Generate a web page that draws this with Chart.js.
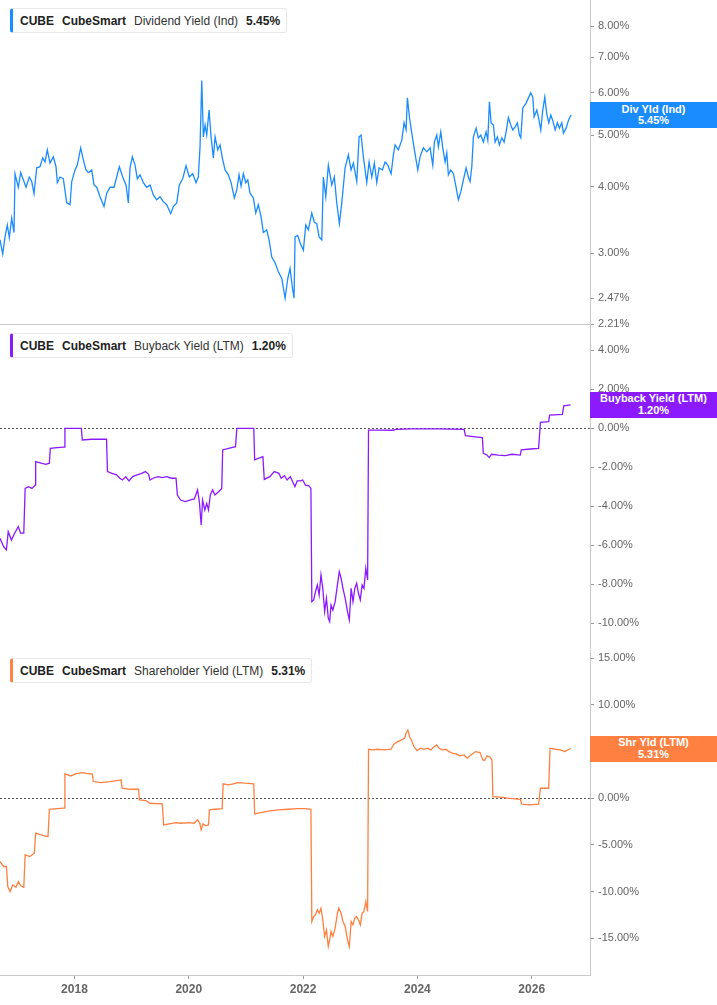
<!DOCTYPE html>
<html>
<head>
<meta charset="utf-8">
<script src="https://cdn.jsdelivr.net/npm/chart.js@4.4.1/dist/chart.umd.min.js"></script>
<style>
  body { margin: 0; background: #fff; width: 717px; height: 1005px; overflow: hidden; position: relative;
         font-family: "Liberation Sans", Arial, sans-serif; }
  .panel { position: absolute; left: 0; width: 717px; }
  .panel canvas { display: block; }
  .legend { position: absolute; left: 10px; height: 23px; display: flex; align-items: center; gap: 8px;
            padding: 0 6px 0 7px; background: #fff; border: 1px solid #e8e8e8; border-left-width: 3px;
            border-radius: 3px; font-size: 12px; color: #333; white-space: nowrap; }
  .legend b { color: #222; }
  .tag { position: absolute; left: 590px; width: 127px; height: 26px; color: #fff; font-weight: bold;
         font-size: 11px; line-height: 11.5px; text-align: center; padding-top: 1.5px; box-sizing: border-box; }
</style>
</head>
<body>
<div class="panel" id="p1" style="top:0"><canvas id="c1" width="717" height="332"></canvas></div>
<div class="panel" id="p2" style="top:325px"><canvas id="c2" width="717" height="324"></canvas></div>
<div class="panel" id="p3" style="top:650px"><canvas id="c3" width="717" height="355"></canvas></div>

<script>
// ---- data (decimal years, values in %) ----
const ticker = 'CUBE';
const company = 'CubeSmart';

const xMin = 2016.697;
const xMax = 2027.02;
const xTickYears = [2018, 2020, 2022, 2024, 2026];

// Dividend Yield (Ind)
const divName = 'Dividend Yield (Ind)';
const divTag = 'Div Yld (Ind)';
const divTicks = [2.21, 2.47, 3, 4, 5, 6, 7, 8];
const divDates = [
  2016.697, 2016.744, 2016.785, 2016.825, 2016.860, 2016.902, 2016.942, 2016.960, 2017.017, 2017.059,
  2017.105, 2017.152, 2017.210, 2017.252, 2017.292, 2017.339, 2017.397, 2017.444, 2017.485, 2017.525,
  2017.572, 2017.630, 2017.677, 2017.700, 2017.747, 2017.805, 2017.864, 2017.922, 2017.952, 2018.010,
  2018.050, 2018.109, 2018.155, 2018.202, 2018.242, 2018.302, 2018.342, 2018.389, 2018.447, 2018.517,
  2018.564, 2018.622, 2018.692, 2018.739, 2018.785, 2018.844, 2018.902, 2018.942, 2018.972, 2019.012,
  2019.060, 2019.100, 2019.147, 2019.205, 2019.264, 2019.322, 2019.380, 2019.439, 2019.497, 2019.555,
  2019.614, 2019.684, 2019.730, 2019.789, 2019.835, 2019.894, 2019.952, 2020.010, 2020.069, 2020.127,
  2020.167, 2020.197, 2020.227, 2020.255, 2020.285, 2020.314, 2020.355, 2020.390, 2020.430, 2020.460,
  2020.507, 2020.547, 2020.587, 2020.635, 2020.692, 2020.740, 2020.797, 2020.839, 2020.880, 2020.915,
  2020.955, 2020.997, 2021.032, 2021.072, 2021.130, 2021.172, 2021.217, 2021.265, 2021.305, 2021.364,
  2021.405, 2021.452, 2021.510, 2021.567, 2021.627, 2021.685, 2021.732, 2021.772, 2021.812, 2021.842,
  2021.860, 2021.907, 2021.947, 2022.005, 2022.047, 2022.092, 2022.152, 2022.197, 2022.239, 2022.280,
  2022.327, 2022.355, 2022.397, 2022.442, 2022.502, 2022.547, 2022.589, 2022.635, 2022.677, 2022.735,
  2022.792, 2022.840, 2022.880, 2022.939, 2022.980, 2023.015, 2023.055, 2023.114, 2023.155, 2023.202,
  2023.247, 2023.289, 2023.330, 2023.387, 2023.435, 2023.482, 2023.540, 2023.580, 2023.610, 2023.667,
  2023.727, 2023.767, 2023.802, 2023.825, 2023.860, 2023.902, 2023.942, 2023.977, 2024.007, 2024.047,
  2024.105, 2024.164, 2024.222, 2024.269, 2024.297, 2024.339, 2024.367, 2024.409, 2024.444, 2024.485,
  2024.514, 2024.542, 2024.584, 2024.630, 2024.677, 2024.717, 2024.759, 2024.805, 2024.852, 2024.892,
  2024.922, 2024.952, 2024.980, 2025.027, 2025.067, 2025.109, 2025.155, 2025.202, 2025.232, 2025.260,
  2025.290, 2025.330, 2025.360, 2025.400, 2025.435, 2025.477, 2025.517, 2025.552, 2025.592, 2025.634,
  2025.669, 2025.710, 2025.750, 2025.785, 2025.809, 2025.844, 2025.902, 2025.942, 2025.984, 2026.019,
  2026.042, 2026.089, 2026.117, 2026.159, 2026.194, 2026.229, 2026.264, 2026.299, 2026.334, 2026.369,
  2026.410, 2026.450, 2026.485, 2026.527, 2026.555, 2026.602, 2026.642, 2026.672, 2026.690
];
const divValues = [
  3.18, 2.99, 3.22, 3.39, 3.21, 3.49, 3.28, 4.23, 3.99, 4.25,
  4.12, 3.99, 4.17, 4.09, 3.88, 4.34, 4.36, 4.53, 4.45, 4.69,
  4.43, 4.55, 4.36, 4.07, 4.17, 4.14, 3.73, 3.70, 4.09, 4.30,
  4.39, 4.73, 4.49, 4.30, 4.25, 4.30, 4.03, 3.99, 3.83, 3.67,
  3.89, 3.99, 3.99, 4.17, 4.36, 4.17, 4.03, 3.73, 4.34, 4.55,
  4.39, 4.14, 4.21, 4.07, 3.99, 4.03, 3.86, 3.78, 3.83, 3.75,
  3.70, 3.56, 3.67, 3.73, 4.03, 4.14, 4.38, 4.17, 4.23, 4.07,
  4.17, 4.75, 6.33, 4.96, 5.22, 5.00, 5.57, 4.96, 4.53, 4.96,
  4.69, 4.79, 4.53, 4.30, 4.21, 4.07, 3.81, 3.94, 4.21, 4.01,
  4.23, 4.07, 4.12, 3.89, 3.81, 3.57, 3.70, 3.51, 3.28, 3.32,
  3.18, 2.95, 2.88, 2.77, 2.69, 2.47, 2.69, 2.81, 2.59, 2.47,
  3.22, 3.24, 3.14, 3.04, 3.39, 3.32, 3.57, 3.43, 3.41, 3.22,
  3.18, 4.17, 3.83, 4.39, 4.03, 4.17, 3.73, 3.41, 3.73, 4.34,
  4.59, 4.30, 4.43, 4.09, 4.96, 5.00, 4.55, 4.07, 4.45, 4.17,
  4.43, 4.07, 4.34, 4.30, 4.45, 4.39, 4.23, 4.59, 4.79, 4.69,
  4.89, 5.27, 5.11, 5.87, 5.41, 5.04, 4.73, 4.49, 4.30, 4.55,
  4.73, 4.65, 4.73, 4.39, 4.85, 5.00, 4.75, 5.07, 4.73, 4.45,
  4.63, 4.21, 4.30, 4.23, 3.99, 3.78, 3.91, 4.12, 4.34, 4.17,
  4.09, 4.36, 4.96, 5.15, 4.94, 5.00, 4.85, 5.07, 4.89, 5.77,
  5.27, 5.22, 4.85, 4.96, 4.79, 4.94, 4.85, 5.07, 5.39, 5.22,
  5.11, 5.18, 5.27, 5.00, 4.94, 5.62, 5.74, 5.87, 6.00, 5.89,
  5.41, 5.57, 5.41, 5.11, 5.57, 5.89, 5.47, 5.27, 5.45, 5.32,
  5.11, 5.27, 5.15, 5.27, 5.04, 5.15, 5.32, 5.41, 5.45
];

// Buyback Yield (LTM)
const bbName = 'Buyback Yield (LTM)';
const bbTag = 'Buyback Yield (LTM)';
const bbTicks = [-10, -8, -6, -4, -2, 0, 2, 4];
const bbDates = [
  2016.697, 2016.761, 2016.809, 2016.841, 2016.897, 2016.953, 2017.017, 2017.057, 2017.113, 2017.137,
  2017.193, 2017.257, 2017.313, 2017.321, 2017.417, 2017.497, 2017.561, 2017.577, 2017.697, 2017.817,
  2017.833, 2018.121, 2018.137, 2018.297, 2018.457, 2018.561, 2018.577, 2018.657, 2018.737, 2018.793,
  2018.841, 2018.897, 2018.953, 2019.017, 2019.097, 2019.177, 2019.241, 2019.297, 2019.321, 2019.377,
  2019.457, 2019.537, 2019.617, 2019.697, 2019.777, 2019.801, 2019.857, 2019.937, 2020.017, 2020.097,
  2020.153, 2020.185, 2020.217, 2020.241, 2020.281, 2020.313, 2020.345, 2020.377, 2020.417, 2020.457,
  2020.521, 2020.577, 2020.593, 2020.697, 2020.817, 2020.841, 2021.137, 2021.153, 2021.217, 2021.297,
  2021.321, 2021.417, 2021.497, 2021.577, 2021.617, 2021.673, 2021.721, 2021.777, 2021.817, 2021.857,
  2021.897, 2021.953, 2021.993, 2022.041, 2022.097, 2022.137, 2022.153, 2022.185, 2022.217, 2022.249,
  2022.281, 2022.313, 2022.345, 2022.377, 2022.409, 2022.441, 2022.465, 2022.489, 2022.521, 2022.561,
  2022.601, 2022.633, 2022.665, 2022.697, 2022.737, 2022.777, 2022.809, 2022.841, 2022.873, 2022.905,
  2022.937, 2022.969, 2023.001, 2023.033, 2023.065, 2023.097, 2023.129, 2023.145, 2023.337, 2023.577,
  2023.617, 2023.897, 2024.377, 2024.817, 2024.841, 2024.977, 2025.137, 2025.153, 2025.217, 2025.257,
  2025.297, 2025.417, 2025.537, 2025.657, 2025.801, 2025.817, 2025.977, 2026.121, 2026.153, 2026.297,
  2026.313, 2026.537, 2026.561, 2026.681
];
const bbValues = [
  -5.64, -6.07, -6.24, -5.30, -5.73, -5.38, -5.04, -5.38, -5.38, -3.08,
  -2.99, -3.08, -2.91, -1.71, -1.79, -1.85, -1.79, -1.03, -0.99, -0.96,
  0.00, 0.00, -0.60, -0.56, -0.55, -0.56, -2.22, -2.31, -2.39, -2.56,
  -2.65, -2.48, -2.70, -2.48, -2.39, -2.31, -2.22, -2.36, -2.65, -2.56,
  -2.48, -2.53, -2.48, -2.56, -2.56, -3.42, -3.68, -3.76, -3.68, -3.62,
  -3.16, -3.76, -4.96, -3.68, -4.19, -3.85, -4.19, -3.42, -3.16, -3.42,
  -3.25, -3.08, -1.11, -1.03, -0.94, 0.00, 0.00, -1.62, -1.54, -1.45,
  -2.62, -2.48, -2.22, -2.31, -2.56, -2.43, -2.65, -2.48, -2.74, -2.99,
  -2.70, -2.70, -2.65, -2.91, -2.94, -3.08, -8.89, -8.80, -8.38, -8.03,
  -8.55, -7.52, -8.21, -9.40, -8.72, -9.74, -9.91, -9.06, -9.32, -8.89,
  -8.03, -7.35, -7.69, -8.21, -8.72, -9.40, -9.83, -8.21, -8.89, -8.21,
  -7.95, -8.46, -8.80, -8.03, -8.21, -7.18, -7.78, -0.09, -0.09, -0.10,
  -0.05, -0.03, -0.03, -0.05, -0.38, -0.43, -0.48, -1.28, -1.37, -1.50,
  -1.33, -1.37, -1.40, -1.33, -1.37, -1.11, -1.06, -1.03, 0.31, 0.34,
  0.68, 0.72, 1.15, 1.20
];

// Shareholder Yield (LTM)
const shName = 'Shareholder Yield (LTM)';
const shTag = 'Shr Yld (LTM)';
const shTicks = [-15, -10, -5, 0, 5, 10, 15];
const shDates = [
  2016.697, 2016.761, 2016.809, 2016.833, 2016.873, 2016.921, 2016.977, 2017.017, 2017.057, 2017.113,
  2017.137, 2017.217, 2017.297, 2017.321, 2017.417, 2017.537, 2017.561, 2017.697, 2017.817, 2017.833,
  2017.937, 2018.017, 2018.137, 2018.257, 2018.313, 2018.329, 2018.457, 2018.617, 2018.737, 2018.817,
  2018.833, 2018.977, 2019.121, 2019.137, 2019.257, 2019.313, 2019.537, 2019.561, 2019.657, 2019.777,
  2019.857, 2020.017, 2020.097, 2020.153, 2020.193, 2020.217, 2020.249, 2020.297, 2020.345, 2020.361,
  2020.457, 2020.585, 2020.601, 2020.697, 2020.777, 2020.857, 2020.977, 2021.137, 2021.153, 2021.257,
  2021.417, 2021.577, 2021.737, 2021.897, 2022.041, 2022.137, 2022.153, 2022.185, 2022.217, 2022.249,
  2022.281, 2022.313, 2022.345, 2022.377, 2022.409, 2022.441, 2022.465, 2022.489, 2022.521, 2022.561,
  2022.601, 2022.625, 2022.665, 2022.697, 2022.737, 2022.777, 2022.809, 2022.841, 2022.873, 2022.905,
  2022.937, 2022.969, 2023.001, 2023.033, 2023.065, 2023.097, 2023.129, 2023.145, 2023.217, 2023.297,
  2023.417, 2023.537, 2023.593, 2023.657, 2023.721, 2023.777, 2023.801, 2023.833, 2023.865, 2023.897,
  2023.937, 2023.993, 2024.057, 2024.121, 2024.177, 2024.233, 2024.297, 2024.337, 2024.377, 2024.441,
  2024.497, 2024.553, 2024.617, 2024.681, 2024.737, 2024.817, 2024.873, 2024.937, 2025.017, 2025.097,
  2025.145, 2025.177, 2025.217, 2025.273, 2025.305, 2025.321, 2025.457, 2025.577, 2025.801, 2025.825,
  2025.977, 2026.121, 2026.153, 2026.297, 2026.321, 2026.417, 2026.497, 2026.577, 2026.657, 2026.681
];
const shValues = [
  -6.79, -7.32, -7.32, -9.46, -10.00, -9.29, -9.54, -8.93, -9.39, -9.54,
  -6.07, -6.25, -5.89, -3.75, -3.93, -4.11, -1.18, -1.11, -1.07, 2.61,
  2.39, 2.61, 2.75, 2.61, 2.61, 1.79, 1.68, 1.79, 1.89, 1.96,
  1.07, 0.96, 0.96, -0.18, -0.25, -0.54, -0.61, -2.86, -2.75, -2.61,
  -2.68, -2.61, -2.68, -2.32, -2.68, -3.39, -2.75, -2.96, -2.86, -1.25,
  -1.18, -1.11, 1.54, 1.43, 1.54, 1.68, 1.61, 1.54, -1.68, -1.54,
  -1.36, -1.25, -1.18, -1.11, -1.11, -1.18, -13.21, -12.68, -12.50, -11.96,
  -12.32, -11.79, -13.04, -14.82, -14.11, -15.89, -15.18, -14.29, -14.82, -13.93,
  -12.32, -11.79, -12.32, -13.21, -13.75, -15.18, -15.89, -13.21, -13.57, -12.86,
  -12.68, -13.04, -13.57, -12.32, -12.14, -11.07, -12.14, 5.25, 5.18, 5.25,
  5.18, 5.25, 5.82, 6.07, 6.25, 6.43, 6.96, 7.32, 6.54, 6.25,
  5.54, 5.11, 5.36, 5.25, 5.36, 5.18, 5.54, 5.71, 5.36, 5.18,
  5.25, 5.00, 4.82, 4.75, 4.54, 4.64, 4.29, 4.64, 5.00, 4.89,
  4.11, 4.04, 4.54, 4.39, 4.11, 0.18, 0.11, 0.00, -0.11, -0.64,
  -0.71, -0.64, 1.07, 1.07, 5.36, 5.25, 5.18, 5.00, 5.25, 5.31
];

const colors = { div: '#1a8cff', bb: '#8c1aff', sh: '#ff8040' };

Chart.defaults.font.family = '"Liberation Sans", Arial, sans-serif';
Chart.defaults.animation = false;

// dotted reference line at 0
const zeroLine = {
    id: 'zeroLine',
    beforeDatasetsDraw(chart, args, opts) {
        if (!opts.show) return;
        const { ctx, chartArea, scales } = chart;
        const y = Math.round(scales.y.getPixelForValue(0)) + 0.5;
        ctx.save();
        ctx.setLineDash([2, 2]);
        ctx.strokeStyle = '#555';
        ctx.lineWidth = 1;
        ctx.beginPath();
        ctx.moveTo(chartArea.left, y);
        ctx.lineTo(chartArea.right, y);
        ctx.stroke();
        ctx.restore();
    }
};

function pct(v) {
    return Number(v).toFixed(2) + '%';
}

function makePanel(cfg) {
    const points = cfg.dates.map((d, i) => ({ x: d, y: cfg.values[i] }));
    const chart = new Chart(document.getElementById(cfg.canvas), {
        type: 'line',
        data: {
            datasets: [{
                data: points,
                borderColor: cfg.color,
                borderWidth: 1.3,
                pointRadius: 0,
                tension: 0,
                fill: false
            }]
        },
        options: {
            responsive: false,
            layout: { padding: { top: 0, bottom: cfg.padBottom || 0, left: 0, right: 0 } },
            plugins: {
                legend: { display: false },
                tooltip: { enabled: false },
                zeroLine: { show: cfg.zero }
            },
            scales: {
                x: {
                    type: 'linear',
                    min: xMin,
                    max: xMax,
                    bounds: 'data',
                    afterBuildTicks: (s) => { s.ticks = xTickYears.map(v => ({ value: v })); },
                    afterFit: (s) => {
                        s.height = cfg.showX ? 30 : 0;
                        s.paddingLeft = 0;
                        s.paddingRight = 0;
                    },
                    grid: { display: cfg.showX, drawOnChartArea: false, tickLength: 4, tickColor: '#999' },
                    border: { display: true, color: '#c8c8c8' },
                    ticks: {
                        display: cfg.showX,
                        color: '#666',
                        padding: 3,
                        font: { size: 12, weight: 'bold' },
                        callback: (v) => String(v)
                    }
                },
                y: {
                    type: cfg.log ? 'logarithmic' : 'linear',
                    position: 'right',
                    min: cfg.min,
                    max: cfg.max,
                    bounds: 'data',
                    afterBuildTicks: (s) => { s.ticks = cfg.ticks.map(v => ({ value: v })); },
                    afterFit: (s) => {
                        s.width = 127;
                        s.paddingTop = 0;
                        s.paddingBottom = 0;
                    },
                    grid: { display: true, drawOnChartArea: false, tickLength: 4, tickColor: '#999' },
                    border: { display: true, color: '#c8c8c8' },
                    ticks: {
                        color: '#666',
                        padding: 4,
                        font: { size: 11 },
                        callback: (v) => pct(v)
                    }
                }
            }
        },
        plugins: [zeroLine]
    });

    // legend box, top-left of the panel
    const panel = document.getElementById(cfg.panel);
    const last = cfg.values[cfg.values.length - 1];
    const legend = document.createElement('div');
    legend.className = 'legend';
    legend.style.top = '8px';
    legend.style.borderLeftColor = cfg.color;
    legend.innerHTML = '<b>' + ticker + '</b><b>' + company + '</b><span>' + cfg.name + '</span><b>' + pct(last) + '</b>';
    panel.appendChild(legend);

    // value tag on the right axis, placed by the y scale
    const tag = document.createElement('div');
    tag.className = 'tag';
    tag.style.background = cfg.color;
    tag.style.top = (chart.scales.y.getPixelForValue(last) - 13) + 'px';
    tag.innerHTML = cfg.tag + '<br>' + pct(last);
    panel.appendChild(tag);
    return chart;
}

makePanel({
    canvas: 'c1', panel: 'p1', dates: divDates, values: divValues, color: colors.div,
    name: divName, tag: divTag, ticks: divTicks, log: true, min: 2.21, max: 8.96,
    padBottom: 8, showX: false, zero: false
});
makePanel({
    canvas: 'c2', panel: 'p2', dates: bbDates, values: bbValues, color: colors.bb,
    name: bbName, tag: bbTag, ticks: bbTicks, log: false, min: -11.32, max: 5.30,
    showX: false, zero: true
});
makePanel({
    canvas: 'c3', panel: 'p3', dates: shDates, values: shValues, color: colors.sh,
    name: shName, tag: shTag, ticks: shTicks, log: false, min: -18.95, max: 15.89,
    showX: true, zero: true
});
</script>
</body>
</html>
